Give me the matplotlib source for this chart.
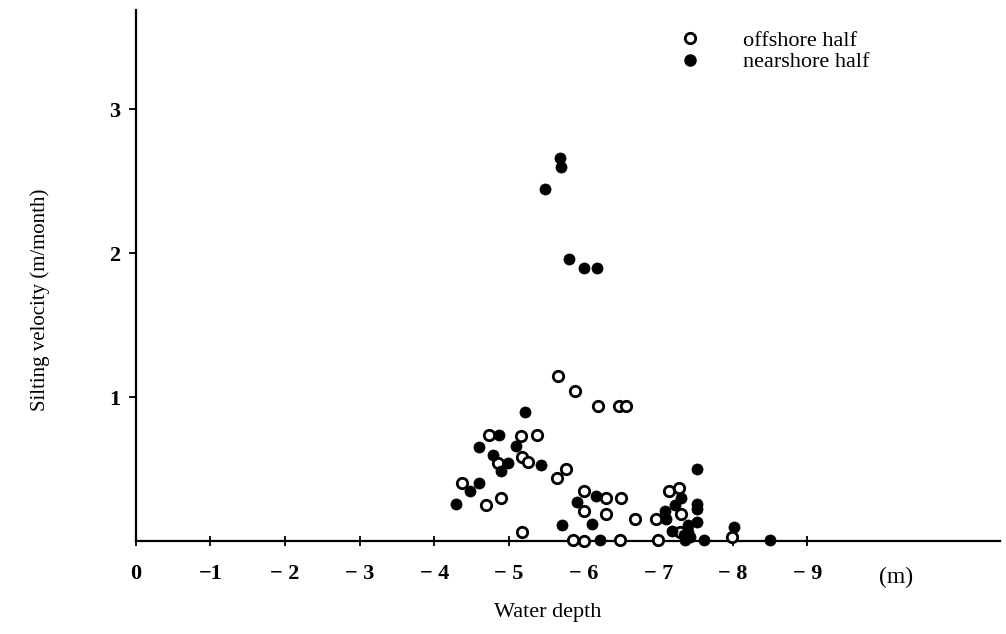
import matplotlib.pyplot as plt
from matplotlib.lines import Line2D

plt.rcParams['font.family'] = ['Liberation Serif', 'DejaVu Serif']

# offshore half of the basin (open circles): water depth (m), silting velocity (m/month)
offshore_depth = [-5.66, -5.89, -6.19, -6.47, -6.57, -4.73, -5.16, -5.38, -4.86, -5.17,
                  -5.26, -4.37, -4.69, -4.89, -5.18, -5.77, -5.64, -6.00, -6.00, -6.30,
                  -6.50, -6.30, -5.86, -6.00, -6.49, -6.69, -6.97, -7.00, -7.15, -7.28,
                  -7.30, -7.29, -7.99]
offshore_vel = [1.15, 1.04, 0.94, 0.94, 0.94, 0.74, 0.73, 0.74, 0.54, 0.585,
                0.55, 0.40, 0.25, 0.30, 0.06, 0.50, 0.435, 0.35, 0.21, 0.30,
                0.30, 0.19, 0.01, 0.0, 0.01, 0.15, 0.15, 0.01, 0.35, 0.37,
                0.19, 0.065, 0.03]

# nearshore half (filled circles)
nearshore_depth = [-5.68, -5.70, -5.48, -5.80, -6.01, -6.18, -5.21, -4.87, -4.60, -5.09,
                   -4.78, -4.99, -4.89, -5.43, -4.48, -4.60, -4.29, -5.71, -5.91, -6.17,
                   -6.11, -6.22, -7.09, -7.11, -7.22, -7.31, -7.52, -7.52, -7.52, -7.18,
                   -7.40, -7.52, -7.36, -7.43, -7.40, -7.35, -7.61, -8.01, -8.50]
nearshore_vel = [2.66, 2.60, 2.45, 1.96, 1.90, 1.90, 0.90, 0.74, 0.65, 0.66,
                 0.60, 0.54, 0.49, 0.53, 0.35, 0.40, 0.26, 0.11, 0.27, 0.31,
                 0.12, 0.01, 0.21, 0.15, 0.25, 0.30, 0.50, 0.26, 0.22, 0.07,
                 0.11, 0.13, 0.01, 0.03, 0.06, 0.04, 0.01, 0.10, 0.01]

xticks = [0, -1, -2, -3, -4, -5, -6, -7, -8, -9]
xtick_labels = ['0', '\u22121', '\u2212 2', '\u2212 3', '\u2212 4', '\u2212 5',
                '\u2212 6', '\u2212 7', '\u2212 8', '\u2212 9']
yticks = [1, 2, 3]

fig = plt.figure(figsize=(10.06, 6.34), dpi=100)
ax = fig.add_axes([0.135, 0.1467, 0.859, 0.8373])

ax.plot(offshore_depth, offshore_vel, 'o', ms=7.5, mfc='white', mec='black', mew=2.0,
        clip_on=False, zorder=3)
ax.plot(nearshore_depth, nearshore_vel, 'o', ms=8, mfc='black', mec='black', mew=0.5,
        clip_on=False, zorder=4)

ax.set_xlim(0, -11.58)
ax.set_ylim(0, 3.69)

for side in ['top', 'right']:
    ax.spines[side].set_visible(False)
for side in ['left', 'bottom']:
    ax.spines[side].set_linewidth(1.6)

ax.set_xticks(xticks)
ax.set_xticklabels(xtick_labels, fontsize=16, fontweight='bold')
ax.set_yticks(yticks)
ax.set_yticklabels([str(t) for t in yticks], fontsize=16, fontweight='bold')
ax.tick_params(axis='x', direction='inout', length=7, width=1.3, pad=13)
ax.tick_params(axis='y', direction='out', length=5, width=1.3, pad=6)

fig.text(896 / 1006, 1 - 577 / 634, '(m)', fontsize=17, ha='center', va='center')
fig.text(548 / 1006, 1 - 612 / 634, 'Water depth', fontsize=16, ha='center', va='center')
fig.text(40 / 1006, 1 - 300 / 634, 'Silting velocity (m/month)', fontsize=15,
         rotation=90, ha='center', va='center')

handles = [
    Line2D([], [], marker='o', ls='none', ms=7.5, mfc='white', mec='black', mew=2.0),
    Line2D([], [], marker='o', ls='none', ms=8, mfc='black', mec='black'),
]
fig.legend(handles, ['offshore half', 'nearshore half'], loc='upper left',
           bbox_to_anchor=(662 / 1006, 1 - 19 / 634), frameon=False, fontsize=16,
           handlelength=1.5, handletextpad=1.66, labelspacing=0.05, borderpad=0)

fig.savefig('out.png', dpi=100)
